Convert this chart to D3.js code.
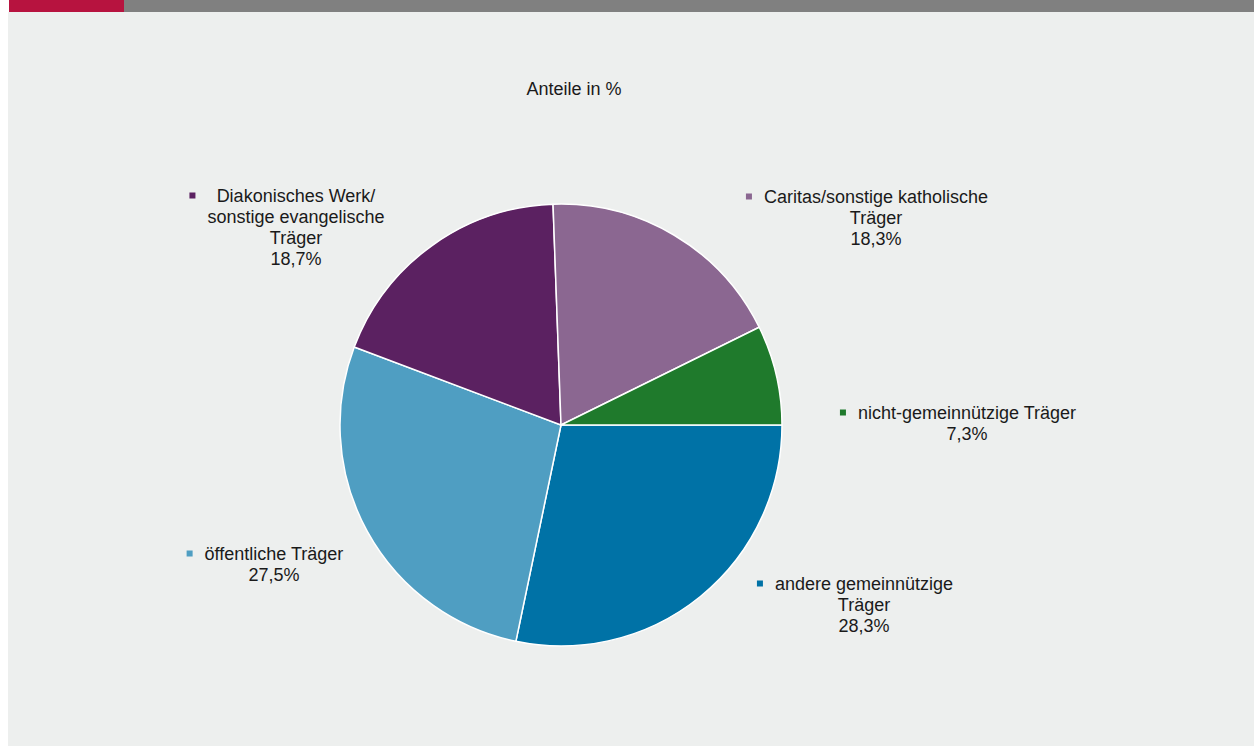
<!DOCTYPE html>
<html>
<head>
<meta charset="utf-8">
<script src="https://cdn.jsdelivr.net/npm/d3@7"></script>
<style>
  html, body { margin: 0; padding: 0; background: #ffffff; }
  svg { display: block; }
  text { font-family: "Liberation Sans", Arial, sans-serif; fill: #1a1a1a; }
</style>
</head>
<body>
<svg id="chart" width="1254" height="746"></svg>
<script>
// Data (clockwise order starting at 3 o'clock)
const categories = [
  "andere gemeinnützige Träger",
  "öffentliche Träger",
  "Diakonisches Werk/ sonstige evangelische Träger",
  "Caritas/sonstige katholische Träger",
  "nicht-gemeinnützige Träger"
];
const labelLines = [
  ["andere gemeinnützige", "Träger"],
  ["öffentliche Träger"],
  ["Diakonisches Werk/", "sonstige evangelische", "Träger"],
  ["Caritas/sonstige katholische", "Träger"],
  ["nicht-gemeinnützige Träger"]
];
const values = [28.3, 27.5, 18.7, 18.3, 7.3];
const valueLabels = ["28,3%", "27,5%", "18,7%", "18,3%", "7,3%"];
const colors = ["#0072a6", "#4f9ec2", "#5b2161", "#8b6791", "#1f7a2c"];
const chartTitle = "Anteile in %";

const svg = d3.select("#chart");

// Background panels
svg.append("rect").attr("x", 8).attr("y", 12).attr("width", 1246).attr("height", 734).attr("fill", "#edefee");
svg.append("rect").attr("x", 124).attr("y", 0).attr("width", 1130).attr("height", 12).attr("fill", "#808080");
svg.append("rect").attr("x", 9).attr("y", 0).attr("width", 115).attr("height", 12).attr("fill", "#b7133f");

// Subtitle
svg.append("text")
  .attr("x", 574).attr("y", 95)
  .attr("text-anchor", "middle")
  .attr("font-size", 18)
  .text(chartTitle);

// Pie
const cx = 561, cy = 425, r = 221;
const pie = d3.pie().sort(null).value(d => d)
  .startAngle(Math.PI / 2).endAngle(Math.PI / 2 + 2 * Math.PI);
const arc = d3.arc().innerRadius(0).outerRadius(r);
const arcs = pie(values);

const g = svg.append("g").attr("transform", `translate(${cx},${cy})`);
g.selectAll("path").data(arcs).enter().append("path")
  .attr("d", arc)
  .attr("fill", (d, i) => colors[i])
  .attr("stroke", "#ffffff")
  .attr("stroke-width", 1.5)
  .attr("stroke-linejoin", "round");

// Label placement (center x, first baseline y)
const labelPos = [
  [864, 590],
  [274, 560],
  [296, 202],
  [876, 203],
  [967, 419]
];
const lineH = 21;

labelLines.forEach((lines, i) => {
  const [lx, ly] = labelPos[i];
  const all = lines.concat([valueLabels[i]]);
  const lg = svg.append("g");
  let minLeft = Infinity;
  all.forEach((t, j) => {
    const tx = lg.append("text")
      .attr("x", lx).attr("y", ly + j * lineH)
      .attr("text-anchor", "middle")
      .attr("font-size", 18)
      .text(t);
    const w = tx.node().getComputedTextLength();
    minLeft = Math.min(minLeft, lx - w / 2);
  });
  lg.append("rect")
    .attr("x", minLeft - 18).attr("y", ly - 9.5)
    .attr("width", 6).attr("height", 6)
    .attr("fill", colors[i]);
});
</script>
</body>
</html>
